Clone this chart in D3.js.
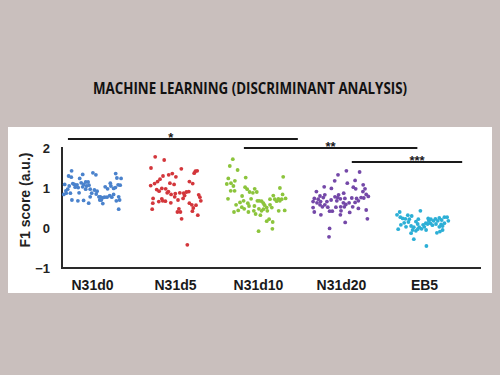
<!DOCTYPE html>
<html>
<head>
<meta charset="utf-8">
<script src="https://cdn.jsdelivr.net/npm/d3@7"></script>
<style>
  html, body { margin: 0; padding: 0; background: #c9bfbd; }
  svg { display: block; }
</style>
</head>
<body>
<svg id="chart" width="500" height="375"></svg>
<script>

var title = 'MACHINE LEARNING (DISCRIMINANT ANALYSIS)';
var yLabel = 'F1 score (a.u.)';
var categories = ['N31d0', 'N31d5', 'N31d10', 'N31d20', 'EB5'];
var colors = ['#4a82cc', '#d3363b', '#8cc43c', '#7448a8', '#2cafd6'];
var yTicks = [2, 1, 0, -1];

// [jitter (-1..1 of half cluster width), F1 score]
var n31d0 = [
  [-0.68, 1.43], [0.03, 1.38], [0.13, 1.33], [0.79, 1.36], [-0.78, 1.30], [-0.69, 1.27],
  [-0.31, 1.34], [-0.41, 1.24], [0.83, 1.25], [0.97, 1.24], [-0.91, 1.09], [-0.76, 1.05],
  [-0.64, 1.11], [-0.59, 1.09], [-0.50, 1.08], [-0.36, 1.13], [-0.28, 1.09], [-0.21, 1.15],
  [-0.13, 1.15], [-0.10, 1.07], [-0.18, 1.05], [-0.31, 1.03], [-0.46, 1.01], [-0.56, 1.02],
  [-0.81, 0.97], [-0.87, 0.93], [-0.86, 0.87], [-0.43, 0.88], [-0.21, 0.97], [-0.06, 0.97],
  [0.08, 0.95], [0.17, 0.92], [-0.01, 0.87], [0.14, 0.85], [0.23, 0.78], [0.28, 0.78],
  [0.37, 0.76], [0.26, 0.70], [0.31, 0.70], [0.36, 0.61], [0.42, 0.77], [0.50, 0.77],
  [0.59, 0.81], [0.66, 0.77], [0.52, 0.98], [0.44, 1.03], [0.61, 1.12], [0.63, 1.05],
  [0.72, 0.99], [0.78, 1.01], [0.87, 1.08], [0.94, 1.07], [0.72, 0.84], [0.89, 0.78],
  [0.92, 0.70], [0.81, 0.68], [-0.67, 0.70], [-0.47, 0.68], [-0.28, 0.69], [-0.11, 0.62],
  [0.89, 0.47], [-0.06, 0.78], [-0.72, 0.87], [-0.94, 0.84]
];
var n31d5 = [
  [-0.66, 1.78], [-0.36, 1.70], [-0.80, 1.50], [0.21, 1.48], [0.68, 1.42], [0.74, 1.43],
  [0.64, 1.37], [-0.21, 1.33], [-0.09, 1.36], [-0.40, 1.30], [0.03, 1.28], [-0.50, 1.22],
  [-0.58, 1.16], [-0.68, 1.11], [-0.81, 1.06], [-0.17, 1.12], [-0.03, 1.09], [0.48, 1.16],
  [0.59, 1.11], [-0.44, 0.99], [-0.61, 0.96], [-0.31, 0.98], [-0.53, 0.92], [-0.22, 0.91],
  [-0.13, 0.84], [0.01, 0.86], [-0.01, 0.78], [0.16, 0.88], [0.29, 0.87], [0.38, 0.90],
  [0.46, 0.91], [0.32, 0.81], [0.27, 0.74], [0.10, 0.70], [-0.73, 0.74], [-0.74, 0.62],
  [-0.54, 0.66], [-0.41, 0.68], [-0.32, 0.67], [-0.14, 0.63], [0.79, 0.83], [0.86, 0.68],
  [0.83, 0.77], [0.70, 0.57], [0.48, 0.62], [0.56, 0.58], [0.61, 0.50], [0.58, 0.42],
  [0.13, 0.48], [0.08, 0.40], [0.18, 0.40], [0.76, 0.32], [-0.76, 0.47], [0.22, 0.23],
  [0.41, -0.42], [-0.44, 0.73], [-0.26, 0.88]
];
var n31d10 = [
  [-0.84, 1.72], [-0.94, 1.55], [-0.68, 1.45], [-0.99, 1.24], [-0.77, 1.18], [-0.41, 1.26],
  [-1.04, 1.10], [-0.90, 1.12], [-0.82, 1.05], [0.84, 1.28], [-0.91, 0.93], [-0.78, 0.93],
  [-0.43, 1.02], [-0.36, 0.97], [-0.28, 0.90], [-0.11, 0.98], [-0.17, 0.88], [0.73, 1.00],
  [-0.04, 0.90], [-0.53, 0.80], [-0.23, 0.73], [-1.00, 0.73], [0.82, 0.84], [0.51, 0.81],
  [0.56, 0.72], [0.40, 0.72], [0.68, 0.73], [0.79, 0.72], [0.92, 0.74], [0.62, 0.67],
  [0.73, 0.68], [-0.02, 0.68], [0.04, 0.68], [0.12, 0.67], [0.18, 0.62], [-0.34, 0.62],
  [-0.48, 0.68], [-0.60, 0.64], [-0.73, 0.58], [-0.54, 0.52], [-0.66, 0.44], [-0.80, 0.40],
  [-0.46, 0.48], [-0.32, 0.40], [-0.14, 0.43], [-0.08, 0.35], [0.03, 0.48], [0.12, 0.43],
  [0.18, 0.47], [0.29, 0.51], [0.40, 0.58], [0.46, 0.51], [0.31, 0.43], [0.22, 0.57],
  [0.08, 0.32], [0.37, 0.22], [0.29, 0.17], [0.49, 0.15], [0.02, -0.08], [0.48, -0.02],
  [0.69, 0.43], [0.89, 0.44], [-0.30, 0.55], [-0.12, 0.55]
];
var n31d20 = [
  [0.18, 1.43], [0.62, 1.40], [-0.10, 1.33], [-0.21, 1.18], [0.47, 1.19], [0.21, 1.12],
  [0.74, 1.08], [-0.56, 1.03], [-0.32, 0.99], [0.41, 1.02], [0.49, 0.98], [0.80, 0.98],
  [0.73, 0.91], [-0.82, 0.91], [0.09, 0.87], [-0.08, 0.83], [-0.70, 0.80], [-0.54, 0.83],
  [0.84, 0.84], [0.91, 0.79], [-0.89, 0.74], [-0.76, 0.72], [-0.59, 0.76], [-0.20, 0.78],
  [-0.11, 0.76], [-0.02, 0.73], [0.13, 0.74], [0.36, 0.75], [0.52, 0.74], [0.67, 0.76],
  [0.76, 0.75], [-0.33, 0.70], [-0.47, 0.66], [-0.68, 0.66], [-0.80, 0.63], [-0.93, 0.66],
  [0.47, 0.64], [0.58, 0.68], [0.27, 0.63], [0.08, 0.63], [-0.14, 0.68], [0.16, 0.59],
  [-0.01, 0.53], [0.11, 0.53], [-0.54, 0.58], [-0.70, 0.58], [-0.62, 0.53], [-0.44, 0.52],
  [-0.17, 0.52], [0.39, 0.53], [0.58, 0.49], [0.84, 0.45], [-0.93, 0.51], [-0.89, 0.40],
  [-0.38, 0.42], [-0.29, 0.42], [0.00, 0.43], [0.29, 0.39], [-0.67, 0.33], [-0.02, 0.33],
  [0.88, 0.23], [0.14, 0.14], [-0.38, -0.01], [-0.40, -0.22]
];
var eb5 = [
  [-0.81, 0.40], [-0.12, 0.43], [-0.90, 0.33], [-0.54, 0.32], [-0.41, 0.30], [-0.79, 0.27],
  [-0.71, 0.24], [-0.62, 0.23], [-0.49, 0.22], [0.14, 0.24], [0.23, 0.22], [0.38, 0.23],
  [0.51, 0.25], [0.68, 0.27], [0.77, 0.27], [0.32, 0.18], [0.46, 0.18], [0.59, 0.20],
  [0.81, 0.18], [-0.66, 0.13], [-0.52, 0.15], [-0.27, 0.16], [-0.21, 0.10], [-0.03, 0.08],
  [0.06, 0.12], [0.12, 0.10], [0.21, 0.12], [0.40, 0.10], [0.57, 0.09], [0.68, 0.12],
  [-0.77, 0.08], [-0.60, 0.03], [-0.43, 0.05], [-0.34, 0.02], [-0.16, 0.02], [0.01, 0.03],
  [0.28, 0.07], [0.51, 0.03], [0.62, 0.05], [-0.86, -0.03], [-0.38, -0.05], [-0.21, -0.03],
  [-0.08, -0.02], [0.07, -0.05], [0.43, -0.12], [0.53, -0.09], [0.62, -0.05], [-0.43, -0.13],
  [-0.27, -0.07], [-0.34, -0.28], [0.08, -0.45], [0.16, 0.18], [-0.19, 0.22]
];
var groups = [n31d0, n31d5, n31d10, n31d20, eb5];

// significance brackets: from, to, label
var sigFrom = ['N31d0', 'N31d10', 'N31d20'];
var sigTo = ['N31d10', 'EB5', 'EB5'];
var sigLabels = ['*', '**', '***'];

// bracket layout (offsets in steps, y in px)
var sigLayout = [
  { l: -0.29, r: 0.48, y: 139, dx: -12 },
  { l: -0.17, r: -0.08, y: 148, dx: 0 },
  { l: 0.13, r: 0.46, y: 162, dx: 10 }
];

var svg = d3.select('#chart');
var font = '"Liberation Sans", Arial, sans-serif';

svg.append('rect')
    .attr('x', 8).attr('y', 127)
    .attr('width', 484).attr('height', 166)
    .attr('fill', '#ffffff');

svg.append('text')
    .attr('x', 250).attr('y', 94)
    .attr('text-anchor', 'middle')
    .attr('font-family', '"Open Sans", sans-serif')
    .attr('font-weight', 'bold')
    .attr('font-size', 16)
    .attr('fill', '#111')
    .attr('textLength', 314)
    .attr('lengthAdjust', 'spacingAndGlyphs')
    .text(title);

var axisLeftX = 62, axisRightX = 481;
var x = d3.scalePoint().domain(categories).range([92, 424]);
var y = d3.scaleLinear().domain([-1, 2]).range([268, 148]);
var halfWidth = 30;

// y axis
var yAxis = svg.append('g')
    .attr('transform', 'translate(' + axisLeftX + ',0)')
    .call(d3.axisLeft(y).tickValues(yTicks).tickFormat(d3.format('d')).tickSize(0).tickSizeOuter(0).tickPadding(12));
yAxis.select('.domain').remove();
yAxis.selectAll('text')
    .attr('font-family', font)
    .attr('font-weight', 'bold')
    .attr('font-size', 13)
    .attr('fill', '#222');

svg.append('line')
    .attr('x1', axisLeftX).attr('x2', axisLeftX)
    .attr('y1', y(2) - 1).attr('y2', y(-1))
    .attr('stroke', '#2a2a2a').attr('stroke-width', 2);

// x axis
var xAxis = svg.append('g')
    .attr('transform', 'translate(0,' + y(-1) + ')')
    .call(d3.axisBottom(x).tickSize(0).tickPadding(12));
xAxis.select('.domain').remove();
xAxis.selectAll('text')
    .attr('font-family', font)
    .attr('font-weight', 'bold')
    .attr('font-size', 14)
    .attr('fill', '#1a1a1a');

svg.append('line')
    .attr('x1', axisLeftX - 1).attr('x2', axisRightX)
    .attr('y1', y(-1)).attr('y2', y(-1))
    .attr('stroke', '#2a2a2a').attr('stroke-width', 2);

svg.append('text')
    .attr('transform', 'translate(25,200) rotate(-90)')
    .attr('dy', '0.35em')
    .attr('text-anchor', 'middle')
    .attr('font-family', font)
    .attr('font-weight', 'bold')
    .attr('font-size', 14)
    .attr('fill', '#222')
    .text(yLabel);

// points
groups.forEach(function(pts, gi) {
  svg.append('g')
      .selectAll('circle')
      .data(pts)
      .enter()
      .append('circle')
      .attr('cx', function(d) { return x(categories[gi]) + d[0] * halfWidth; })
      .attr('cy', function(d) { return y(d[1]); })
      .attr('r', 1.9)
      .attr('fill', colors[gi]);
});

// significance brackets
var step = x.step();
sigLabels.forEach(function(lbl, i) {
  var lay = sigLayout[i];
  var x1 = x(sigFrom[i]) + lay.l * step;
  var x2 = x(sigTo[i]) + lay.r * step;
  svg.append('line')
      .attr('x1', x1).attr('x2', x2)
      .attr('y1', lay.y).attr('y2', lay.y)
      .attr('stroke', '#1a1a1a').attr('stroke-width', 2);
  svg.append('text')
      .attr('x', (x1 + x2) / 2 + lay.dx)
      .attr('y', lay.y + 3)
      .attr('text-anchor', 'middle')
      .attr('font-family', font)
      .attr('font-weight', 'bold')
      .attr('font-size', 13)
      .attr('fill', '#1a1a1a')
      .text(lbl);
});

</script>
</body>
</html>
